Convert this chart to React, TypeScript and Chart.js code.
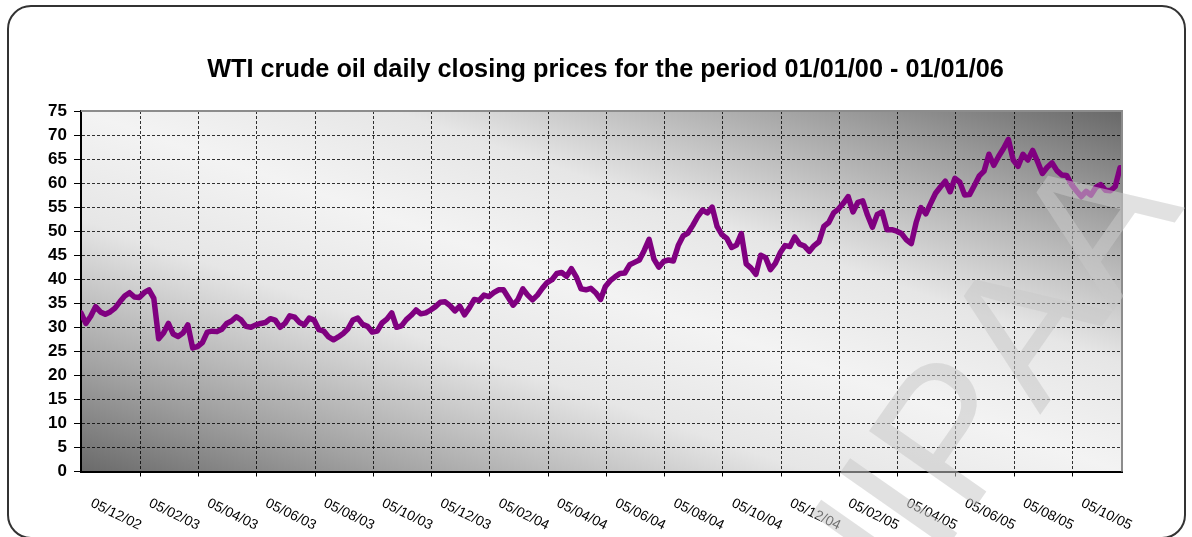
import React, { useEffect, useRef } from 'react';
import { Chart, registerables } from 'chart.js';

Chart.register(...registerables);

const TITLE = 'WTI crude oil daily closing prices for the period 01/01/00 - 01/01/06';

const TICK_LABELS = [
  '05/12/02', '05/02/03', '05/04/03', '05/06/03', '05/08/03', '05/10/03',
  '05/12/03', '05/02/04', '05/04/04', '05/06/04', '05/08/04', '05/10/04',
  '05/12/04', '05/02/05', '05/04/05', '05/06/05', '05/08/05', '05/10/05',
];

// x position (in sample index units) of the first labelled tick and the step between labels
const FIRST_TICK = 12.2;
const TICK_STEP = 12;
const X_MAX = 214.4;

const Y_MIN = 0;
const Y_MAX = 75;
const Y_STEP = 5;

// closing price samples, evenly spaced in time
const PRICES = [
  33, 30.8, 32.3, 34.3, 33.2, 32.7, 33.2, 34, 35.3, 36.5,
  37.2, 36.3, 36.2, 37.2, 37.8, 36, 27.6, 28.8, 30.8, 28.6,
  28.1, 28.8, 30.5, 25.7, 26, 26.8, 29, 29.2, 29.1, 29.6,
  30.8, 31.3, 32.2, 31.5, 30.2, 30, 30.5, 30.8, 31, 31.8,
  31.5, 30, 30.8, 32.4, 32.1, 31, 30.5, 31.9, 31.5, 29.5,
  29.2, 28, 27.4, 28, 28.7, 29.7, 31.5, 31.9, 30.6, 30.2,
  29, 29.2, 30.9, 31.7, 33, 30, 30.3, 31.6, 32.5, 33.6,
  32.8, 33, 33.6, 34.3, 35.2, 35.3, 34.5, 33.4, 34.4, 32.6,
  34.1, 35.8, 35.6, 36.7, 36.4, 37.2, 37.8, 37.8, 36.2, 34.6,
  35.8, 38, 36.7, 35.7, 36.7, 38.1, 39.3, 39.9, 41.2, 41.4,
  40.6, 42.2, 40.5, 38, 37.8, 38.1, 37.2, 35.8, 38.5, 39.7,
  40.5, 41.2, 41.3, 43, 43.5, 44, 46, 48.3, 44.2, 42.5,
  43.7, 44, 43.8, 47, 49, 49.6, 51.2, 53, 54.4, 53.8,
  55, 51, 49.3, 48.5, 46.6, 47.1, 49.5, 43.2, 42.3, 41,
  45, 44.5, 42, 43.3, 45.5, 47, 46.8, 48.8, 47.3, 46.9,
  45.8, 47, 47.8, 51, 51.8, 53.8, 54.6, 55.8, 57.2, 54,
  56, 56.3, 53.3, 50.8, 53.5, 54, 50.3, 50.3, 50, 49.5,
  48.2, 47.4, 51.8, 54.9, 53.6, 55.8, 57.9, 59.2, 60.4, 58.2,
  61, 60.2, 57.5, 57.6, 59.5, 61.5, 62.5, 66, 63.7, 65.6,
  67.2, 69.1, 64.8, 63.5, 66, 64.8, 66.8, 64.5, 62, 63.3,
  64.2, 62.6, 61.7, 61.6, 59.7, 58.4, 57.2, 58.3, 57.5, 59.1,
  59.7, 58.5, 58.4, 59.3, 63.2,
];

const WATERMARK_LEFT = 'HIP';
const WATERMARK_RIGHT = 'AA';

const FONT = '"Liberation Sans", Arial, Helvetica, sans-serif';

const backgroundPlugin = {
  id: 'plotBackground',
  beforeDraw(chart: any) {
    const { ctx, chartArea } = chart;
    const { left, right, top, bottom } = chartArea;
    const w = right - left;
    const h = bottom - top;
    const cx = (left + right) / 2;
    const cy = (top + bottom) / 2;
    // gradient perpendicular to the top-left -> bottom-right diagonal
    const len = Math.hypot(w, h);
    const ux = h / len;
    const uy = -w / len;
    const half = Math.abs((-w / 2) * ux + (h / 2) * uy);
    const g = ctx.createLinearGradient(cx - ux * half, cy - uy * half, cx + ux * half, cy + uy * half);
    g.addColorStop(0, '#6a6a6a');
    g.addColorStop(0.15, '#a2a2a2');
    g.addColorStop(0.35, '#e6e6e6');
    g.addColorStop(0.5, '#f3f3f3');
    g.addColorStop(0.65, '#e6e6e6');
    g.addColorStop(0.85, '#a0a0a0');
    g.addColorStop(1, '#686868');
    ctx.save();
    ctx.fillStyle = g;
    ctx.fillRect(left, top, w, h);
    ctx.restore();
  },
};

const overlayPlugin = {
  id: 'overlay',
  afterDraw(chart: any) {
    const { ctx, chartArea } = chart;
    const { left, right, top, bottom } = chartArea;
    ctx.save();
    // plot area border (top & right)
    ctx.strokeStyle = '#8c8c8c';
    ctx.lineWidth = 2;
    ctx.beginPath();
    ctx.moveTo(left, top);
    ctx.lineTo(right, top);
    ctx.lineTo(right, bottom);
    ctx.stroke();

    // title, sized to the reference width
    ctx.fillStyle = '#000';
    ctx.font = `bold 20px ${FONT}`;
    const w20 = ctx.measureText(TITLE).width;
    const titleSize = (20 * 797) / w20;
    ctx.font = `bold ${titleSize.toFixed(2)}px ${FONT}`;
    ctx.textAlign = 'center';
    ctx.textBaseline = 'alphabetic';
    ctx.fillText(TITLE, 605.5, 77);

    // rotated x labels
    const xs = chart.scales.x;
    ctx.font = `14px ${FONT}`;
    ctx.textAlign = 'right';
    TICK_LABELS.forEach((lab, i) => {
      const px = xs.getPixelForValue(FIRST_TICK + TICK_STEP * i);
      ctx.save();
      ctx.translate(px - 1.5, 530);
      ctx.rotate((26 * Math.PI) / 180);
      ctx.fillText(lab, 0, 0);
      ctx.restore();
    });

    // watermark
    const fs = 190;
    ctx.font = `${fs}px ${FONT}`;
    ctx.fillStyle = 'rgba(200,200,200,0.55)';
    ctx.translate(965 + 0.395 * fs, 285 + 0.684 * fs);
    ctx.rotate((-55 * Math.PI) / 180);
    ctx.textAlign = 'right';
    ctx.fillText(WATERMARK_LEFT, 0, 0);
    ctx.textAlign = 'left';
    ctx.fillText(WATERMARK_RIGHT, 0, 0);
    ctx.restore();
  },
};

export default function App() {
  const ref = useRef<HTMLCanvasElement>(null);

  useEffect(() => {
    if (!ref.current) return;
    const tickValues: number[] = [];
    TICK_LABELS.forEach((_, i) => {
      const v = FIRST_TICK + TICK_STEP * i;
      if (v <= X_MAX) tickValues.push(v);
    });

    const chart = new Chart(ref.current, {
      type: 'line',
      data: {
        datasets: [
          {
            data: PRICES.map((v, i) => ({ x: i, y: v })),
            borderColor: '#800080',
            borderWidth: 5.5,
            pointRadius: 0,
            tension: 0,
            borderJoinStyle: 'round',
            borderCapStyle: 'round',
            fill: false,
          },
        ],
      },
      options: {
        animation: false,
        responsive: false,
        devicePixelRatio: 1,
        events: [],
        layout: { padding: { left: 0, right: 70, top: 111, bottom: 0 } },
        plugins: {
          legend: { display: false },
          tooltip: { enabled: false },
          title: { display: false },
        },
        scales: {
          x: {
            type: 'linear',
            min: 0,
            max: X_MAX,
            afterBuildTicks: (scale: any) => {
              scale.ticks = tickValues.map((v) => ({ value: v }));
            },
            afterFit: (scale: any) => {
              scale.height = 65.5;
            },
            ticks: { display: false },
            grid: {
              color: 'rgba(0,0,0,0.8)',
              lineWidth: 1,
              tickLength: 5,
              tickColor: '#000',
              tickWidth: 1,
              tickBorderDash: [],
            },
            border: { display: true, color: '#000', width: 2, dash: [3, 2] },
          },
          y: {
            type: 'linear',
            min: Y_MIN,
            max: Y_MAX,
            afterFit: (scale: any) => {
              scale.width = 81;
            },
            ticks: {
              stepSize: Y_STEP,
              color: '#000',
              padding: 7,
              font: { family: FONT, size: 17, weight: 'bold' },
            },
            grid: {
              color: 'rgba(0,0,0,0.8)',
              lineWidth: 1,
              tickLength: 7,
              tickColor: '#000',
              tickWidth: 1,
              tickBorderDash: [],
            },
            border: { display: true, color: '#000', width: 2, dash: [3, 2] },
          },
        },
      } as any,
      plugins: [backgroundPlugin, overlayPlugin],
    });
    return () => chart.destroy();
  }, []);

  return (
    <div
      style={{
        position: 'fixed',
        left: 0,
        top: 0,
        width: 1192,
        height: 537,
        background: '#fff',
        overflow: 'hidden',
      }}
    >
      <div
        style={{
          position: 'absolute',
          left: 7,
          top: 5,
          width: 1179,
          height: 534,
          border: '2px solid #333',
          borderRadius: 24,
          boxSizing: 'border-box',
        }}
      />
      <canvas
        ref={ref}
        width={1192}
        height={537}
        style={{ position: 'absolute', left: 0, top: 0, width: 1192, height: 537 }}
      />
    </div>
  );
}
